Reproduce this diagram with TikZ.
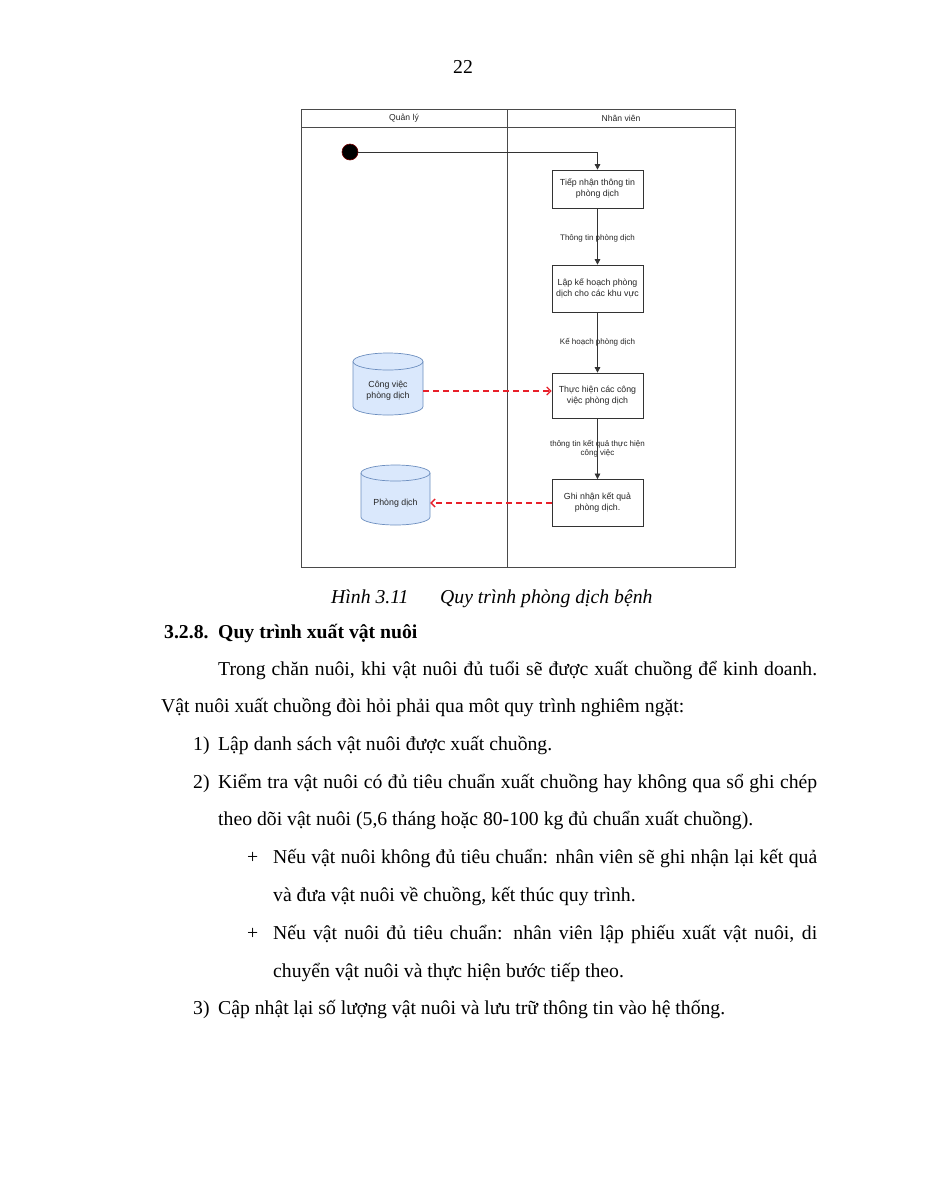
\documentclass[tikz,border=0pt]{standalone}
\usepackage{fontspec}
\setmainfont{Liberation Serif}
\newfontfamily\dsans{Liberation Sans}
\usetikzlibrary{arrows.meta}
\definecolor{cylfill}{HTML}{DAE8FC}
\definecolor{cyldraw}{HTML}{6C8EBF}
\definecolor{flowred}{HTML}{E8202A}
\definecolor{framecol}{HTML}{4A4A4A}
\begin{document}
\begin{tikzpicture}[x=1pt,y=-1pt,
  box/.style={draw=black!80, line width=0.7pt, minimum width=91pt, align=center,
    font=\dsans\fontsize{8.8}{11}\selectfont, inner sep=0pt, text=black!85},
  lbl/.style={font=\dsans\fontsize{8}{9.5}\selectfont, align=center, inner sep=0pt, text=black!85},
  hdr/.style={font=\dsans\fontsize{8.6}{10}\selectfont, inner sep=0pt, text=black!85},
  cyltext/.style={font=\dsans\fontsize{8.8}{11}\selectfont, align=center, inner sep=0pt, text=black!85},
  flow/.style={draw=black!80, line width=0.6pt, -{Triangle[length=5.5pt,width=5.5pt]}},
  dflow/.style={draw=flowred, line width=1.3pt, dash pattern=on 6pt off 4pt,
    -{Straight Barb[length=4pt,width=8pt]}},
  cyl/.style={fill=cylfill, draw=cyldraw, line width=0.7pt},
  body/.style={font=\fontsize{19.7}{22}\selectfont, inner sep=0pt, anchor=mid west},
]
\fill[white] (0,0) rectangle (927,1200);
\useasboundingbox (0,0) rectangle (927,1200);

% page number
\node[font=\fontsize{19.7}{22}\selectfont, inner sep=0pt] (pnum) at (463,67) {22};

% swimlane frame
\draw[framecol, line width=0.8pt] (301,109) rectangle (735,567);
\draw[framecol, line width=0.8pt] (301,127) -- (735,127);
\draw[framecol, line width=0.8pt] (507,109) -- (507,567);
\node[hdr] (h1) at (404,118) {Quản lý};
\node[hdr] (h2) at (621,118) {Nhân viên};

% start
\node[circle, fill=black, draw=red!45!black, line width=0.6pt, minimum size=16pt, inner sep=0pt] (start) at (350,152) {};

% activity boxes
\node[box, minimum height=38pt] (b1) at (597.5,189) {Tiếp nhận thông tin\\phòng dịch};
\node[box, minimum height=47pt] (b2) at (597.5,288.5) {Lập kế hoạch phòng\\dịch cho các khu vực};
\node[box, minimum height=45pt] (b3) at (597.5,395.5) {Thực hiện các công\\việc phòng dịch};
\node[box, minimum height=47pt] (b4) at (597.5,503) {Ghi nhận kết quả\\phòng dịch.};

% cylinders
\path[cyl] (353,361.5) -- (353,406.5) arc[start angle=180,end angle=360,x radius=35pt,y radius=8.5pt]
  -- (423,361.5) arc[start angle=0,end angle=180,x radius=35pt,y radius=8.5pt] -- cycle;
\draw[cyldraw, line width=0.7pt] (353,361.5) arc[start angle=180,end angle=360,x radius=35pt,y radius=8.5pt];
\node[cyltext, minimum width=70pt, minimum height=40pt] (c1) at (388,391) {Công việc\\phòng dịch};

\path[cyl] (361,473) -- (361,517) arc[start angle=180,end angle=360,x radius=34.5pt,y radius=8pt]
  -- (430,473) arc[start angle=0,end angle=180,x radius=34.5pt,y radius=8pt] -- cycle;
\draw[cyldraw, line width=0.7pt] (361,473) arc[start angle=180,end angle=360,x radius=34.5pt,y radius=8pt];
\node[cyltext, minimum width=69pt, minimum height=36pt] (c2) at (395.5,503) {Phòng dịch};

% edge labels
\node[lbl] (l1) at (597.5,238) {Thông tin phòng dịch};
\node[lbl] (l2) at (597.5,342) {Kế hoạch phòng dịch};
\node[lbl] (l3) at (597.5,448.5) {thông tin kết quả thực hiện\\công việc};

% connectors
\draw[flow] (start) -| (b1);
\draw[flow] (b1) -- (b2);
\draw[flow] (b2) -- (b3);
\draw[flow] (b3) -- (b4);
\draw[dflow] (c1.east) -- (c1.east -| b3.west);
\draw[dflow] (b4.west) -- (b4.west -| c2.east);

% caption
\node[body, font=\fontsize{19.7}{22}\selectfont\itshape] (cap1) at (331,601) {Hình 3.11};
\node[body, font=\fontsize{19.7}{22}\selectfont\itshape] (cap2) at (440,601) {Quy trình phòng dịch bệnh};

% heading
\node[body, font=\fontsize{19.7}{22}\selectfont\bfseries] (hd1) at (164,636) {3.2.8.};
\node[body, font=\fontsize{19.7}{22}\selectfont\bfseries] (hd2) at (218,636) {Quy trình xuất vật nuôi};

% body text
\node[body] (t1) at (218,673) {\makebox[599pt][s]{Trong chăn nuôi, khi vật nuôi đủ tuổi sẽ được xuất chuồng để kinh doanh.}};
\node[body] (t2) at (161,710) {Vật nuôi xuất chuồng đòi hỏi phải qua môt quy trình nghiêm ngặt:};
\node[body] (n1) at (193,748) {1)};
\node[body] (t3) at (218,748) {Lập danh sách vật nuôi được xuất chuồng.};
\node[body] (n2) at (193,786) {2)};
\node[body] (t4) at (218,786) {\makebox[599pt][s]{Kiểm tra vật nuôi có đủ tiêu chuẩn xuất chuồng hay không qua sổ ghi chép}};
\node[body] (t5) at (218,823) {theo dõi vật nuôi (5,6 tháng hoặc 80-100 kg đủ chuẩn xuất chuồng).};
\node[body] (pl1) at (247,861) {+};
\node[body] (t6) at (273,861) {\makebox[544pt][s]{Nếu vật nuôi không đủ tiêu chuẩn: nhân viên sẽ ghi nhận lại kết quả}};
\node[body] (t7) at (273,899) {và đưa vật nuôi về chuồng, kết thúc quy trình.};
\node[body] (pl2) at (247,937) {+};
\node[body] (t8) at (273,937) {\makebox[544pt][s]{Nếu vật nuôi đủ tiêu chuẩn: nhân viên lập phiếu xuất vật nuôi, di}};
\node[body] (t9) at (273,975) {chuyển vật nuôi và thực hiện bước tiếp theo.};
\node[body] (n3) at (193,1012) {3)};
\node[body] (t10) at (218,1012) {Cập nhật lại số lượng vật nuôi và lưu trữ thông tin vào hệ thống.};
\end{tikzpicture}
\end{document}
